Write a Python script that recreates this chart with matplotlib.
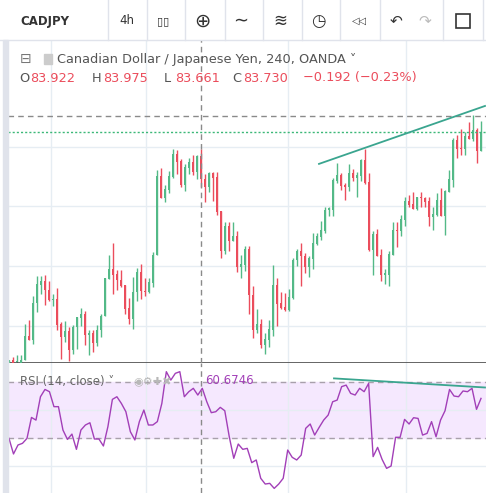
import numpy as np
import matplotlib
matplotlib.use("Agg")
import matplotlib.pyplot as plt
from matplotlib.patches import Rectangle

# ---- data (price readings, converted: price = 83.972 - reading/360) ----
o_read = [820,810,818,820,812,738,752,640,585,573,600,632,627,702,743,723,782,712,684,672,
          737,730,760,720,680,567,538,552,570,585,655,687,607,547,603,606,580,497,258,323,
          300,262,192,213,285,233,217,245,198,268,290,250,262,365,485,410,455,440,533,525,
          477,615,720,702,765,750,720,585,640,652,660,625,512,485,498,533,507,462,443,423,
          362,360,272,255,285,290,250,265,258,210,277,480,432,495,557,555,495,420,425,390,
          333,342,357,320,323,333,383,375,330,380,305,270,150,173,178,138,147,120,183]
h_read = [810,803,795,795,702,690,618,558,558,555,575,612,595,698,693,713,705,682,655,663,
          720,720,705,672,565,495,460,540,540,585,625,562,535,522,565,565,487,240,235,285,
          243,177,180,208,222,205,195,195,178,253,245,245,245,363,398,398,398,425,495,470,
          470,588,657,688,730,692,525,565,608,610,598,505,477,460,490,498,430,430,395,352,
          350,265,220,250,280,222,238,245,207,178,250,423,418,478,538,483,398,397,375,320,
          315,305,320,305,320,320,350,308,295,300,240,145,135,118,125,97,75,113,93]
l_read = [820,820,820,820,812,752,762,668,612,645,635,650,722,808,758,815,792,778,710,765,
          795,788,770,743,680,567,612,600,592,673,702,717,635,627,620,610,593,497,323,335,
          308,265,252,290,302,253,255,268,290,335,307,333,375,506,494,485,455,548,566,543,
          672,746,730,775,792,773,738,710,658,665,665,627,530,588,550,563,537,467,452,430,
          378,378,280,300,330,303,272,320,272,283,483,555,498,575,583,590,497,473,440,408,
          352,357,360,352,350,408,422,378,380,437,305,290,203,195,195,147,152,218,183]
c_read = [810,820,815,810,738,752,640,582,573,602,632,627,705,743,723,782,712,682,672,737,
          730,760,720,678,565,538,555,572,588,657,687,607,547,605,606,578,495,258,323,298,
          258,192,215,285,232,217,245,198,268,290,250,263,368,485,410,455,440,533,522,477,
          617,720,702,765,747,717,585,642,655,660,622,510,485,500,533,505,460,440,420,360,
          355,270,255,288,290,250,265,255,210,278,480,432,498,557,550,492,420,425,387,333,
          345,357,322,325,335,383,372,330,380,303,268,150,177,178,138,147,120,183,127]

def to_price(r):
    return 83.972 - np.asarray(r, float) / 360.0

opens, highs, lows, closes = map(to_price, (o_read, h_read, l_read, c_read))

rsi_vals = [30.0,18.9,25.3,26.5,30.0,45.0,43.1,59.8,65.0,63.4,52.7,52.7,36.0,29.3,33.1,22.2,36.0,39.6,41.2,29.6,
            29.6,24.6,38.4,57.9,59.8,55.0,49.1,34.8,28.9,42.0,50.3,39.6,39.6,42.0,55.0,77.7,71.7,76.5,77.7,59.8,
            63.4,65.8,61.0,65.8,56.2,48.4,49.1,52.2,49.8,31.2,15.8,26.0,22.2,22.9,12.7,14.6,1.5,-2.6,-2.1,-5.7,
            -2.6,1.5,21.7,16.5,14.6,18.1,37.2,40.3,32.4,37.9,43.1,46.7,56.2,57.4,67.0,68.1,62.2,61.0,65.8,63.4,
            69.3,17.0,23.6,15.0,8.6,10.3,30.8,30.8,43.6,40.3,44.8,44.3,32.4,33.6,42.0,31.2,43.1,49.8,65.0,60.3,
            59.8,63.9,63.4,65.8,50.8,58.6]

trend_idx = [77.5, 119.0]
trend_px = to_price([222, 48])
rsi_trend_idx = [81.25, 119.0]
rsi_trend = [72.9, 66.4]
vgrid_idx = [10.5, 34.25, 69.75, 99.25]
cross_idx = 48
cross_px = to_price(78)[()]
price_line = to_price(127)[()]

GREEN = "#53b987"; RED = "#eb4d5c"; GRID = "#e6edf3"; PURPLE = "#a23fb8"

W, H = 486, 493
fig = plt.figure(figsize=(W/100, H/100), dpi=100)
fig.patch.set_facecolor("white")

def rect(x0, y0, x1, y1):  # pixel coords, y from top
    return [x0/W, 1 - y1/H, (x1-x0)/W, (y1-y0)/H]

n = len(opens)
idx = np.arange(n)

# main pane
ax = fig.add_axes(rect(8, 40, 486, 363))
ax.set_xlim(-0.25, 119.25)
ax.set_ylim(81.694, 84.389)
for g in [83.5, 83.0, 82.5, 82.0]:
    ax.axhline(g, color=GRID, lw=1, zorder=0)
for v in vgrid_idx:
    ax.axvline(v, color=GRID, lw=1, zorder=0)
for i in idx:
    up = closes[i] >= opens[i]
    col = GREEN if up else RED
    ax.vlines(i, lows[i], highs[i], color=col, lw=1, zorder=2)
    b0 = min(opens[i], closes[i]); bh = max(abs(closes[i]-opens[i]), 0.004)
    ax.add_patch(Rectangle((i-0.32, b0), 0.64, bh, color=col, lw=0, zorder=3))
ax.axhline(cross_px, color="#8a8a8a", lw=1, ls=(0, (4, 3)), zorder=4)
ax.axhline(price_line, color="#3cb878", lw=1, ls=(0, (1.5, 1.5)), zorder=4)
ax.axvline(cross_idx, color="#8a8a8a", lw=1, ls=(0, (4, 3)), zorder=4)
ax.plot(trend_idx, trend_px, color="#3aa58f", lw=1.3, zorder=5)
ax.set_xticks([]); ax.set_yticks([])
for s in ["top", "right", "left"]:
    ax.spines[s].set_visible(False)
ax.spines["bottom"].set_color("#4a4a4a"); ax.spines["bottom"].set_linewidth(1.2)

# RSI pane
ax2 = fig.add_axes(rect(8, 363, 486, 493))
ax2.set_xlim(-0.25, 119.25)
ax2.set_ylim(-9, 83.9)
ax2.axhspan(30, 70, color="#f5e8fe", zorder=0)
for g in [50, 10]:
    ax2.axhline(g, color=GRID, lw=1, zorder=1)
for v in vgrid_idx:
    ax2.axvline(v, color=GRID, lw=1, zorder=1)
for g in [70, 30]:
    ax2.axhline(g, color="#a8a0ab", lw=1, ls=(0, (4, 3)), zorder=2)
ax2.axvline(cross_idx, color="#8a8a8a", lw=1, ls=(0, (4, 3)), zorder=2)
rx = np.linspace(0, 118, len(rsi_vals))
ax2.plot(rx, rsi_vals, color=PURPLE, lw=1.0, zorder=3)
ax2.plot(rsi_trend_idx, rsi_trend, color="#3aa58f", lw=1.3, zorder=4)
ax2.set_xticks([]); ax2.set_yticks([])
for s in ax2.spines.values():
    s.set_visible(False)

# left strip
fig.add_artist(Rectangle((3/W, 0), 5/W, 1 - 40/H, transform=fig.transFigure, color="#e0e3eb"))

# toolbar
fig.add_artist(plt.Line2D([0, 1], [1-40/H, 1-40/H], transform=fig.transFigure, color="#e0e3eb", lw=1))
for sx in [108, 147, 185, 225, 263, 302, 340, 380, 443, 483]:
    fig.add_artist(plt.Line2D([sx/W, sx/W], [1-40/H, 1], transform=fig.transFigure, color="#e0e3eb", lw=1))
def ft(x, y, s, **kw):
    fig.text(x/W, 1 - y/H, s, va="center", **kw)
ft(20, 21, "CADJPY", fontsize=8.5, fontweight="bold", color="#333333")
ft(119, 21, "4h", fontsize=8.5, color="#333333")
ft(157, 21, "▯▯", fontsize=8, color="#333333")
ft(194, 21, "⊕", fontsize=14, color="#333333")
ft(233, 21, "∼", fontsize=13, color="#333333")
ft(273, 21, "≋", fontsize=12, color="#333333")
ft(311, 21, "◷", fontsize=12, color="#333333", family=["DejaVu Sans"])
ft(352, 21, "◁◁", fontsize=7, color="#333333")
ft(390, 21, "↶", fontsize=11, color="#333333")
ft(418, 21, "↷", fontsize=11, color="#bbbbbb")
fig.add_artist(Rectangle((456/W, 1-28/H), 14/W, 14/H, transform=fig.transFigure,
                         fill=False, ec="#333333", lw=1.2))

# legend texts
ft(20, 59, "⊟", fontsize=10, color="#777777")
fig.add_artist(Rectangle((44/W, 1-64/H), 8/W, 10/H, transform=fig.transFigure, color="#cccccc"))
ft(57, 59, "Canadian Dollar / Japanese Yen, 240, OANDA ˅", fontsize=9.3, color="#555555")
for (lx, lab, val) in [(19, "O", "83.922"), (92, "H", "83.975"), (164, "L", "83.661"), (232, "C", "83.730")]:
    ft(lx, 78, lab, fontsize=9.3, color="#555555")
    ft(lx + 11, 78, val, fontsize=9.3, color=RED)
ft(303, 78, "−0.192 (−0.23%)", fontsize=9.3, color=RED)

ft(20, 381, "RSI (14, close) ˅", fontsize=8.5, color="#666666")
ft(133, 381, "◉⚙✚✖", fontsize=8, color="#b8b8b8")
ft(205, 381, "60.6746", fontsize=8.5, color=PURPLE)

fig.savefig("out.png", dpi=100)
